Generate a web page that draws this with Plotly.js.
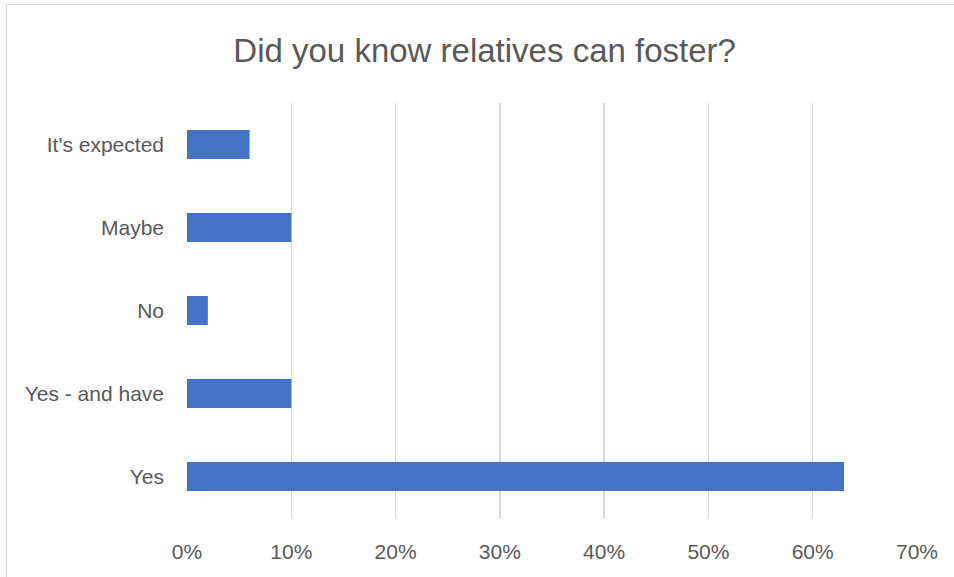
<!DOCTYPE html>
<html>
<head>
<meta charset="utf-8">
<script src="https://cdn.plot.ly/plotly-3.0.1.min.js"></script>
<style>
html,body{margin:0;padding:0;background:#fff;overflow:hidden;}
#frame{position:absolute;left:6px;top:4px;width:1000px;height:700px;border:1px solid #d9d9d9;box-sizing:border-box;pointer-events:none;z-index:2;}
#chart{position:absolute;left:0;top:0;width:954px;height:577px;}
</style>
</head>
<body>
<div id="chart"></div>
<div id="frame"></div>
<script>
const categories = ["Yes", "Yes - and have", "No", "Maybe", "It's expected"];
const values = [0.63, 0.10, 0.02, 0.10, 0.06];
const tickValues = [0, 0.1, 0.2, 0.3, 0.4, 0.5, 0.6, 0.7];
const tickLabels = ["0%", "10%", "20%", "30%", "40%", "50%", "60%", "70%"];

const trace = {
  type: 'bar',
  orientation: 'h',
  x: values,
  y: categories,
  marker: {color: '#4472C4', line: {color: '#4472C4', width: 0}},
  hoverinfo: 'x+y'
};

const layout = {
  width: 954,
  height: 577,
  margin: {l: 187, r: 37, t: 103, b: 59},
  paper_bgcolor: '#ffffff',
  plot_bgcolor: '#ffffff',
  bargap: 0.65,
  showlegend: false,
  title: {
    text: 'Did you know relatives can foster?',
    font: {family: 'Liberation Sans, Arial, sans-serif', size: 33, color: '#595959'},
    x: 0.508, xanchor: 'center',
    y: 0.913, yanchor: 'middle'
  },
  xaxis: {
    range: [0, 0.7],
    tickvals: tickValues,
    ticktext: tickLabels,
    showgrid: true,
    gridcolor: '#d9d9d9',
    gridwidth: 1.3,
    zeroline: false,
    showline: false,
    ticks: '',
    ticklabelstandoff: 19,
    tickfont: {family: 'Liberation Sans, Arial, sans-serif', size: 21, color: '#595959'},
    fixedrange: true
  },
  yaxis: {
    type: 'category',
    categoryorder: 'array',
    categoryarray: categories,
    showgrid: false,
    zeroline: false,
    showline: false,
    ticks: '',
    ticklabelstandoff: 22,
    tickfont: {family: 'Liberation Sans, Arial, sans-serif', size: 21, color: '#595959'},
    fixedrange: true
  }
};

Plotly.newPlot('chart', [trace], layout, {displayModeBar: false, staticPlot: true});
</script>
</body>
</html>
